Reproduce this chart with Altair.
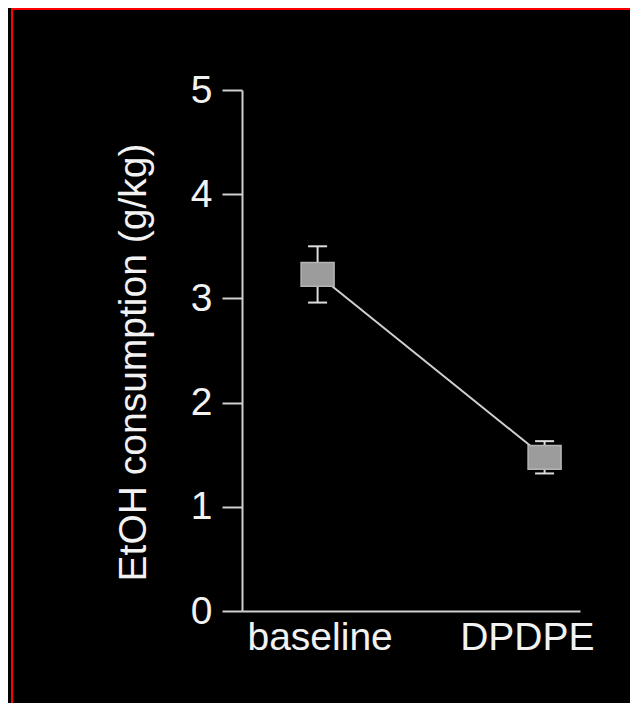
import altair as alt
import pandas as pd

# ---- data ----
conditions = ["baseline", "DPDPE"]
positions = [1, 2]
means = [3.23, 1.475]
sems = [0.27, 0.155]

tick_labels = ["baseline", "DPDPE"]
label_positions = [1.009, 1.922]
y_ticks = [0, 1, 2, 3, 4, 5]

df = pd.DataFrame({"condition": conditions, "pos": positions, "mean": means, "sem": sems})
df["lo"] = df["mean"] - df["sem"]
df["hi"] = df["mean"] + df["sem"]

FONT = "Liberation Sans"
AX = "#d0d0d0"
TXT = "#f2f2f2"
FS = 39

label_expr = f"datum.value < 1.5 ? '{tick_labels[0]}' : '{tick_labels[1]}'"

x_axis = alt.Axis(values=label_positions, labelExpr=label_expr, ticks=False, tickSize=0,
                  grid=False, title=None, labelFontSize=FS, labelColor=TXT, labelFont=FONT,
                  labelPadding=7, labelBaseline="top", labelFlush=False,
                  domainColor=AX, domainWidth=2)
y_axis = alt.Axis(values=y_ticks, format="d", tickSize=20, tickWidth=2, tickColor=AX,
                  domainColor=AX, domainWidth=2, grid=False, labelFontSize=FS,
                  labelColor=TXT, labelFont=FONT, labelPadding=10, labelFlush=False,
                  title="EtOH consumption (g/kg)", titleFont=FONT, titleFontSize=FS,
                  titleColor=TXT, titleFontWeight="normal", titleX=-89, titleY=272)

xs = alt.Scale(domain=[0.667, 2.156], nice=False, zero=False)
ys = alt.Scale(domain=[0, 5], nice=False)

X = alt.X("pos:Q", scale=xs, axis=x_axis)

base = alt.Chart(df)

RECT = "M-1,-0.72L1,-0.72L1,0.72L-1,0.72Z"

line = base.mark_line(color="#d0d0d0", strokeWidth=2).encode(
    x=X, y=alt.Y("mean:Q", scale=ys, axis=y_axis))
stem = base.mark_rule(color="#dcdcdc", strokeWidth=2).encode(
    x=X, y=alt.Y("lo:Q", scale=ys, axis=y_axis), y2="hi:Q")
cap_hi = base.mark_tick(orient="horizontal", size=19, thickness=2, color="#dcdcdc", opacity=1).encode(
    x=X, y=alt.Y("hi:Q", scale=ys, axis=y_axis))
cap_lo = base.mark_tick(orient="horizontal", size=19, thickness=2, color="#dcdcdc", opacity=1).encode(
    x=X, y=alt.Y("lo:Q", scale=ys, axis=y_axis))
pts = base.mark_point(shape=RECT, size=1089, filled=True, color="#9c9c9c", stroke="#b4b4b4",
                      strokeWidth=1.5, opacity=1).encode(
    x=X, y=alt.Y("mean:Q", scale=ys, axis=y_axis))

# decorative red frame of the original figure
frame_top = base.mark_rule(color="#ff0000", strokeWidth=2).encode(
    x=alt.value(-231), x2=alt.value(388), y=alt.value(-81))
frame_left = base.mark_rule(color="#ff0000", strokeWidth=2).encode(
    x=alt.value(-230), y=alt.value(-82), y2=alt.value(613))

chart = alt.layer(line, stem, cap_hi, cap_lo, pts, frame_top, frame_left).properties(
    width=338, height=521,
    padding={"left": 234, "top": 82, "right": 50, "bottom": 92},
    autosize=alt.AutoSizeParams(type="none"),
    background="#000000",
).configure_view(stroke=None)

chart.save("out.html", embed_options={"renderer": "svg", "actions": False})
